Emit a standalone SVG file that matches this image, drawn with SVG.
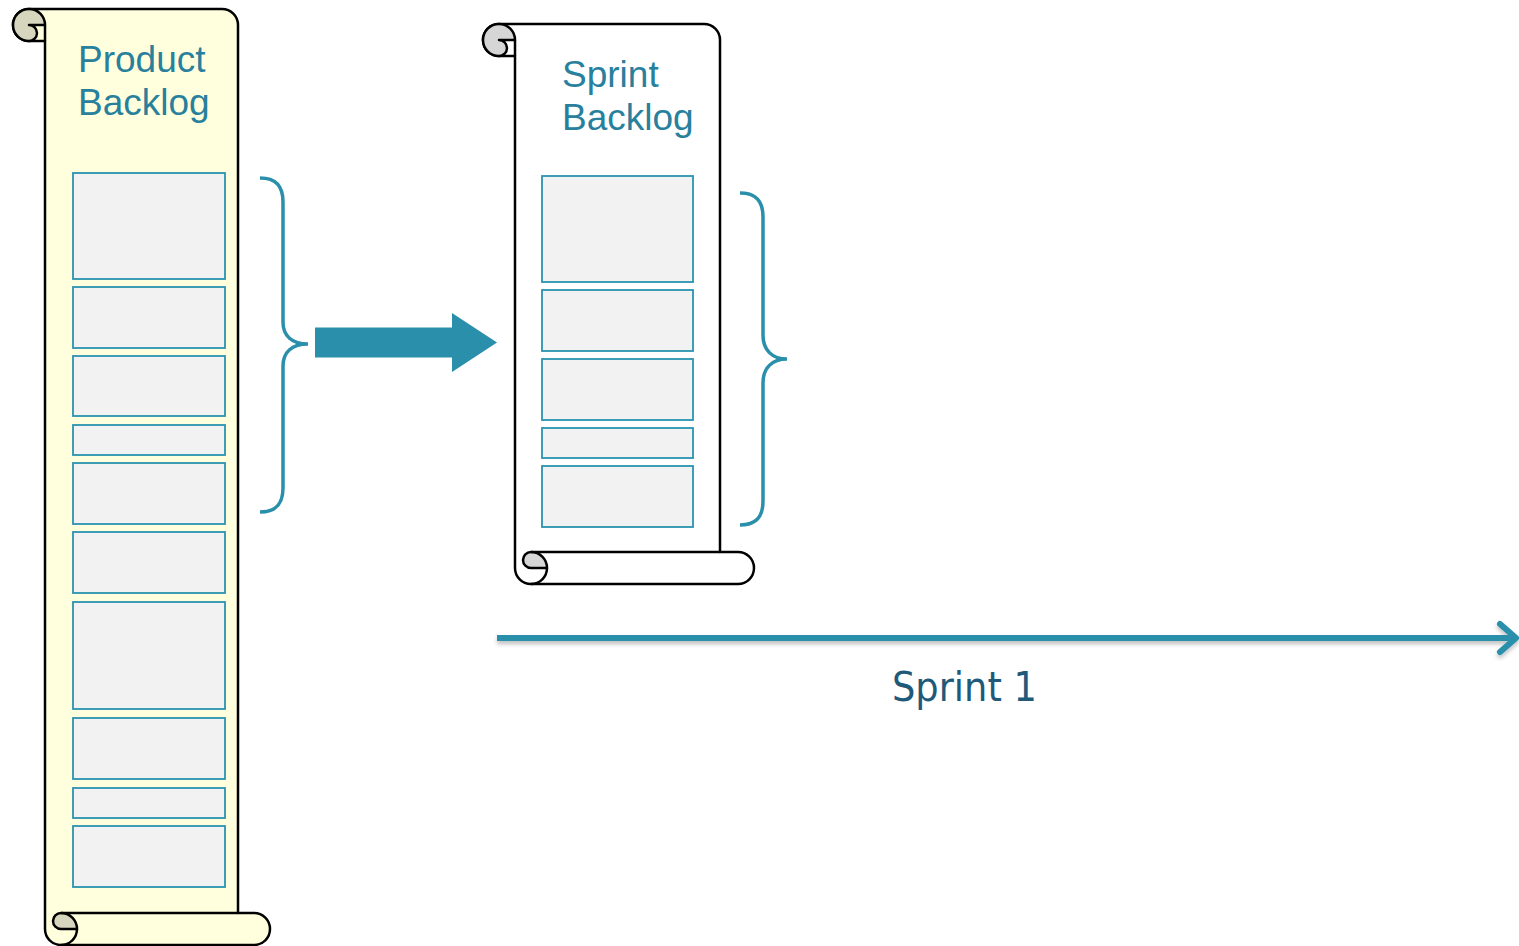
<svg xmlns="http://www.w3.org/2000/svg" width="1519" height="946" viewBox="0 0 1519 946">
  <defs>
    <filter id="soft-shadow" x="-5%" y="-200%" width="110%" height="500%">
      <feDropShadow dx="0" dy="3" stdDeviation="2" flood-color="#000" flood-opacity="0.25"/>
    </filter>
  </defs>
  <style>
    .scroll-line { stroke: #000; stroke-width: 2.5; fill: none; stroke-linejoin: round; }
    .paper-yellow { fill: #ffffdd; stroke: #000; stroke-width: 2.5; stroke-linejoin: round; }
    .paper-white { fill: #ffffff; stroke: #000; stroke-width: 2.5; stroke-linejoin: round; }
    .curl-yellow { fill: #d6d5bd; stroke: #000; stroke-width: 2.5; stroke-linejoin: round; }
    .curl-white { fill: #d6d6d6; stroke: #000; stroke-width: 2.5; stroke-linejoin: round; }
    .item { fill: #f2f2f2; stroke: #2a93b0; stroke-width: 1.8; }
    .title { font-family: "Liberation Sans", Arial, sans-serif; font-size: 37px; fill: #28809d; }
    .brace { fill: none; stroke: #2a8fab; stroke-width: 3.5; stroke-linecap: butt; }
    .timeline { fill: none; stroke: #2a8fab; stroke-width: 6; }
    .sprint-label { font-family: "DejaVu Sans", Verdana, sans-serif; font-size: 41px; fill: #1f5a7a; }
  </style>

  <!-- Product backlog scroll -->
  <g id="product-backlog">
    <path class="paper-yellow" d="M 29,9 L 222,9 A16,16 0 0 1 238,25 L 238,913 L 254,913 A16,16 0 0 1 254,945 L 61,945 A16,16 0 0 1 45,929 L 45,41 L 29,41 A16,16 0 0 1 29,9 Z"/>
    <path class="curl-yellow" d="M 29,41 A16,16 0 0 1 29,9 A16,16 0 0 1 45,25 L 29,25 A8,8 0 0 1 29,41 Z"/>
    <path class="scroll-line" d="M 45,25 V 41"/>
    <path class="curl-yellow" d="M 61,913 A8,8 0 0 0 61,929 L 77,929 A16,16 0 0 0 61,913 Z"/>
    <path class="scroll-line" d="M 61,913 H 238 M 77,929 A16,16 0 0 1 61,945"/>
    <text class="title" x="78" y="72">Product</text>
    <text class="title" x="78" y="115">Backlog</text>
    <rect class="item" x="73" y="173" width="152" height="106"/>
    <rect class="item" x="73" y="287" width="152" height="61"/>
    <rect class="item" x="73" y="356" width="152" height="60"/>
    <rect class="item" x="73" y="425" width="152" height="30"/>
    <rect class="item" x="73" y="463" width="152" height="61"/>
    <rect class="item" x="73" y="532" width="152" height="61"/>
    <rect class="item" x="73" y="602" width="152" height="107"/>
    <rect class="item" x="73" y="718" width="152" height="61"/>
    <rect class="item" x="73" y="788" width="152" height="30"/>
    <rect class="item" x="73" y="826" width="152" height="61"/>
  </g>

  <!-- Sprint backlog scroll -->
  <g id="sprint-backlog">
    <path class="paper-white" d="M 499,24 L 704,24 A16,16 0 0 1 720,40 L 720,552 L 738,552 A16,16 0 0 1 738,584 L 531,584 A16,16 0 0 1 515,568 L 515,56 L 499,56 A16,16 0 0 1 499,24 Z"/>
    <path class="curl-white" d="M 499,56 A16,16 0 0 1 499,24 A16,16 0 0 1 515,40 L 499,40 A8,8 0 0 1 499,56 Z"/>
    <path class="scroll-line" d="M 515,40 V 56"/>
    <path class="curl-white" d="M 531,552 A8,8 0 0 0 531,568 L 547,568 A16,16 0 0 0 531,552 Z"/>
    <path class="scroll-line" d="M 531,552 H 720 M 547,568 A16,16 0 0 1 531,584"/>
    <text class="title" x="562" y="87">Sprint</text>
    <text class="title" x="562" y="130">Backlog</text>
    <rect class="item" x="542" y="176" width="151" height="106"/>
    <rect class="item" x="542" y="290" width="151" height="61"/>
    <rect class="item" x="542" y="359" width="151" height="61"/>
    <rect class="item" x="542" y="428" width="151" height="30"/>
    <rect class="item" x="542" y="466" width="151" height="61"/>
  </g>

  <!-- Sprint timeline label -->
  <g id="sprint-1">
    <text class="sprint-label" x="892" y="701" textLength="145" lengthAdjust="spacingAndGlyphs">Sprint 1</text>
  </g>

  <!-- Connectors: braces, transfer arrow, timeline -->
  <g id="connectors">
    <path class="brace" d="M 260,178 C 276,178 283,186 283,202 L 283,322 C 283,336 292,344 308,344 C 292,344 283,352 283,366 L 283,488 C 283,504 276,512 260,512"/>
    <path class="brace" d="M 740,193 C 756,193 763,201 763,217 L 763,335 C 763,350 772,359 787,359 C 772,359 763,368 763,383 L 763,501 C 763,517 756,525 740,525"/>
    <polygon fill="#2a8fab" points="315,327.5 452,327.5 452,313 497,342.5 452,372 452,357.5 315,357.5"/>
    <g filter="url(#soft-shadow)">
      <line class="timeline" x1="497" y1="638" x2="1515" y2="638"/>
      <polyline class="timeline" points="1500,624 1516,638 1500,652" stroke-linecap="round" stroke-linejoin="round"/>
    </g>
  </g>
</svg>
